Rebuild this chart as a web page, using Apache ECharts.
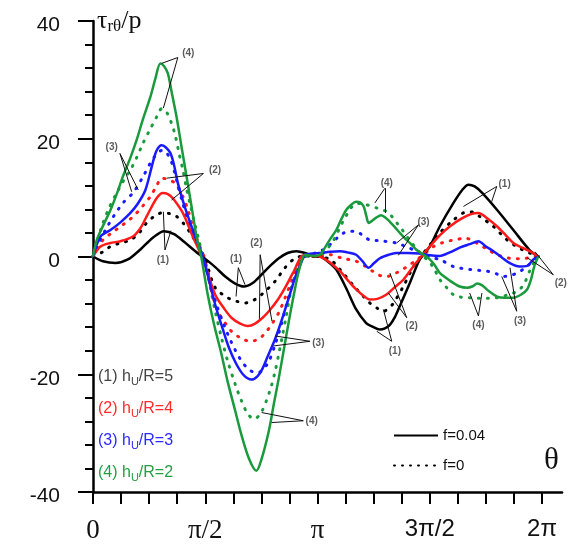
<!DOCTYPE html>
<html><head><meta charset="utf-8">
<script src="https://cdn.jsdelivr.net/npm/echarts@6/dist/echarts.min.js"></script>
<style>html,body{margin:0;padding:0;background:#fff}#c{width:571px;height:544px}</style>
</head><body><div id="c"></div><script>
// θ in degrees, τrθ/p values; (1) hU/R=5 … (4) hU/R=2, solid f=0.04, dotted f=0
const h5_f004 = [[0,0],[8,-0.8],[18,-1.1],[28,-0.5],[38,1.2],[48,3.2],[57,4.3],[65,3.8],[73,2.5],[82,0.9],[90,-0.4],[98,-1.8],[106,-3.4],[114,-4.6],[121,-5.1],[128,-4.5],[135,-3.1],[142,-1.6],[149,-0.3],[156,0.6],[163,0.9],[170,0.6],[176,0.1],[182,0],[188,-0.8],[195,-2.2],[203,-5.4],[211,-9],[219,-11.3],[224,-11.9],[230,-12.4],[234,-12.2],[238,-11.6],[242,-10.3],[246,-8.4],[254,-4.5],[262,-0.5],[270,1.7],[278,5.1],[289,9.1],[296,11.3],[301,12.2],[306,11.9],[312,10.8],[324,7.9],[337,4.5],[350,1.1],[357,0]];
const h5_f0 = [[0,0],[8,0.8],[14,1.7],[22,2.3],[30,2.8],[37,4],[43,5.7],[49,6.8],[55,7.4],[61,7.3],[67,6.8],[73,5.5],[78,4],[86,1.2],[90,-0.5],[98,-5.3],[108,-7],[115,-7.6],[122,-7.9],[129,-7.4],[135,-6.5],[146,-4.2],[154,-1.9],[162,-0.3],[170,0.1],[180,0],[190,-0.5],[198,-2.2],[209,-5],[216,-6.6],[222,-7.9],[228,-8.8],[233,-9.3],[237,-8.8],[241,-7.9],[249,-5],[257,-1.7],[265,0.6],[271,2.2],[278,4],[289,6.2],[300,7.6],[305,7.5],[310,6.8],[321,5.1],[332,2.8],[342,1.4],[350,0.6],[357,0]];
const h4_f004 = [[0,0],[6,1.7],[14,2.3],[22,2.6],[32,3.4],[38,4.8],[43,6.8],[51,9.9],[56,10.8],[60,10.6],[64,9.9],[72,7.4],[80,3.4],[86,0.6],[90,-1.5],[98,-6.5],[105,-8.8],[111,-10.4],[118,-11.4],[124,-11.8],[130,-11.4],[136,-10.4],[141,-9.3],[148,-7.4],[154,-5.3],[161,-2.5],[167,0],[172,0.3],[178,0.1],[182,0],[190,-1],[198,-2.5],[205,-4.2],[211,-5.6],[217,-6.7],[222,-7.3],[228,-7.2],[235,-6.5],[242,-5.2],[249,-3.9],[256,-1.9],[262,-0.3],[270,1.7],[278,3.6],[286,5.1],[295,6.4],[303,7.2],[309,7.4],[316,6.5],[324,5.1],[331,3.6],[337,2.3],[344,1.5],[350,0.9],[357,0]];
const h4_f0 = [[0,0],[8,2.8],[15,4],[22,5.1],[29,6.2],[35,7.4],[40,8.6],[46,10.2],[51,12],[55,13.3],[60,13.1],[66,12.4],[72,10.2],[76,8],[80,5.1],[85,2],[89,0],[94,-5],[100,-9.3],[106,-11.3],[111,-12.7],[118,-13.8],[126,-14.4],[133,-14],[138,-13],[143,-11.6],[149,-9.5],[154,-7],[159,-4.3],[164,-1.9],[170,0],[180,0],[190,0.3],[200,-0.3],[211,-0.8],[217,-1.5],[222,-2.2],[228,-3],[233,-3.4],[238,-3.3],[243,-2.8],[249,-2.1],[254,-1.4],[260,-0.5],[265,0.3],[273,1.7],[281,2.4],[289,2.8],[299,3.1],[305,2.6],[310,2],[317,1.1],[324,0.3],[334,-0.3],[343,-0.4],[350,-0.2],[357,0]];
const h3_f004 = [[0,0],[6,3.4],[14,4.5],[22,5.8],[30,7.4],[36,9],[42,11.3],[48,16],[51,18],[55,18.9],[58,18.6],[62,17.6],[65,15.5],[68,12.5],[73,8.8],[78,5.7],[82,3.3],[86,1.2],[90,-1.5],[98,-8.2],[104,-12.3],[109,-15.5],[115,-18.3],[121,-20.2],[127,-20.9],[132,-20.3],[136,-19],[140,-17],[146,-14],[151,-11],[157,-7],[162,-3.6],[167,-1],[170,0.3],[176,0.5],[182,0.6],[190,0.8],[198,0.9],[204,0.7],[211,0.3],[216,-0.8],[221,-1.9],[225,-1.2],[230,-0.3],[237,0.3],[243,0.6],[252,0.6],[262,0.5],[270,0.2],[278,0.1],[286,0.7],[294,1.5],[302,2.1],[309,2.6],[315,1.7],[321,0.9],[328,-0.2],[334,-1.1],[342,-1.7],[348,-1.6],[353,-0.5],[357,0]];
const h3_f0 = [[0,0],[5,2.5],[10,4.5],[14,6],[19,7.6],[24,9.1],[32,10.8],[40,13.5],[46,15.9],[51,17.4],[55,18],[59,17.6],[63,16],[67,13],[72,9],[77,5.5],[82,2.8],[87,0.5],[91,-1.8],[98,-7.5],[105,-11.6],[111,-14.6],[118,-17.4],[124,-19],[130,-19.7],[135,-19.5],[141,-17.8],[146,-15],[151,-11.5],[156,-7.5],[161,-4],[166,-1.2],[170,0],[178,0.6],[184,1.1],[190,2],[196,3.2],[201,4],[206,4.3],[211,4.3],[216,3.6],[222,2.8],[228,2.7],[233,2.6],[243,2.3],[254,1.4],[260,0.8],[265,0.3],[271,-0.2],[278,-0.5],[289,-1.7],[302,-2.2],[316,-2.5],[323,-2.9],[329,-3.4],[335,-3.2],[340,-2.8],[348,-1.7],[353,-0.6],[357,0]];
const h2_f004 = [[0,0],[3,2.8],[8,5.2],[14,7.9],[19,10.6],[24,13.6],[30,16.8],[35,19.8],[40,23.3],[46,27.1],[50,30.2],[54,32.8],[57,32.3],[60,31.1],[63,28],[67,23.7],[71,18.6],[75,13.6],[79,8.5],[83,3.4],[87,-0.3],[92,-6.5],[97,-11.5],[103,-16.6],[108,-21.3],[114,-26.2],[119,-30.3],[125,-34.3],[131,-36.4],[135,-34.5],[141,-29.6],[145,-25],[149,-20.6],[153,-15.8],[157,-11],[161,-6.5],[165,-2.5],[170,0.3],[176,0.1],[182,0.3],[186,1.5],[190,2.9],[195,4.5],[199,6.3],[203,7.9],[207,8.8],[211,9.3],[214,9.2],[217,8.5],[219,7],[221,5.7],[224,6.1],[227,6.6],[231,7],[235,6.5],[238,5.9],[242,5],[246,4],[250,3.1],[254,2.3],[259,1.2],[265,0.3],[270,-0.5],[274,-1.5],[278,-2.8],[286,-4.1],[294,-5.1],[300,-5.3],[304,-5.1],[308,-4.6],[312,-4.9],[317,-5.8],[324,-6.8],[330,-7],[337,-7],[343,-6.5],[348,-5.6],[351,-4],[354,-1.5],[357,0]];
const h2_f0 = [[0,0],[4,3],[8,5.7],[13,8.3],[19,10.8],[24,12.7],[30,14.7],[35,16.8],[40,19.2],[46,21.7],[51,23.7],[55,25.1],[59,24.5],[63,22.6],[66,20.5],[69,17.5],[72,14.8],[75,11.5],[78,8.8],[81,6],[85,2.7],[88,0],[92,-3.3],[98,-9.3],[103,-13.8],[108,-17.8],[114,-21.7],[119,-24.5],[124,-26.7],[129,-27.6],[134,-26.8],[139,-24.5],[143,-22],[146,-19.5],[149,-16.5],[152,-13.3],[155,-10],[158,-6.5],[161,-4],[165,-1.4],[169,0],[176,0.1],[180,0],[185,0.6],[189,1.6],[193,2.8],[197,4.5],[201,6.2],[205,7.6],[209,8.8],[214,9],[219,8.8],[224,8.5],[228,8.2],[232,7.9],[236,7.6],[240,6.7],[244,5.6],[248,4.5],[252,3.3],[256,2.2],[260,1.1],[265,0],[270,-1],[274,-2.3],[278,-3.9],[284,-5.4],[289,-6.5],[295,-6.9],[302,-7],[310,-7.1],[317,-7.1],[324,-7],[331,-6.6],[337,-6.2],[342,-5.6],[346,-4.5],[350,-2.5],[354,-0.8],[357,0]];

// axis ticks (degrees) and their labels
const xTicks = [0,22.5,45,67.5,90,112.5,135,157.5,180,202.5,225,247.5,270,292.5,315,337.5,360];
const xLabelValues = [0,90,180,270,360];
const xLabelText = ['{s|0}','{s|π/2}','{s|π}','{a|3π/2}','{a|2π}'];

// callout tags: text, position; leader lines: from, to
const tagText = ['(4)','(3)','(2)','(1)','(1)','(2)','(3)','(4)','(4)','(3)','(1)','(2)','(3)','(4)','(2)','(1)'];
const tagPos = [[76.4,34.5],[15,18.6],[97.8,14.7],[56,-0.6],[114.7,-0.5],[131,2.3],[180.7,-14.7],[175.3,-27.9],[235.5,12.4],[265,5.9],[330,12.2],[375,-4.5],[342.4,-11],[309,-11.6],[255.5,-11.8],[242,-16.1]];
const leaderFrom = [[68,33.8],[68,33.8],[21.6,17.5],[21.6,17.5],[88.5,14.1],[88.5,14.1],[57.7,1.1],[57.7,1.1],[116.5,-1.9],[116.5,-1.9],[134,0.3],[134,0.3],[174,-14.4],[174,-14.4],[168.6,-27.9],[168.6,-27.9],[234,11.6],[234,11.6],[261,5.4],[261,5.4],[323.7,11.9],[323.7,11.9],[369,-3.1],[369,-3.1],[339.7,-9.3],[339.7,-9.3],[309,-10.1],[309,-10.1],[251.5,-10.4],[251.5,-10.4],[239.5,-14.4],[239.5,-14.4]];
const leaderTo = [[55,32.8],[56.4,25.2],[31,11],[36.3,11.3],[59,13.3],[63,9.6],[56.4,7.6],[62.5,4.4],[121.9,-4.8],[114.7,-6.8],[133.4,-10.6],[143.5,-11],[146,-13.5],[144.6,-15.2],[135.2,-26.5],[143.3,-28.2],[226,9.1],[234,7.4],[243.5,2.3],[244.8,0.2],[297,8.5],[319.6,9.3],[348,-0.2],[354.4,0.8],[334.3,-1.9],[327.7,-3.4],[302,-6.2],[311.8,-6.2],[238,-2.8],[236.8,-6.2],[227.5,-12.7],[232.8,-9]];

const BLACK = '#000000', RED = '#ff1a1a', BLUE = '#1a1aff', GREEN = '#1a9a3c';
const SERIF = '"Liberation Serif","DejaVu Serif",serif';
const SANS = '"Liberation Sans",Arial,sans-serif';

function curve(name, data, color, dotted) {
  return {
    name: name, type: 'line', data: data, smooth: 0.3, symbol: 'none',
    lineStyle: dotted ? { color: color, width: 3, type: [1, 8], cap: 'round' }
                      : { color: color, width: 2.5 },
    z: dotted ? 3 : 4
  };
}

// legend-only entries for the two friction values (line sample, no marker)
function keyEntry(name, lineStyle) {
  return { name: name, type: 'line', data: [], symbol: 'circle', symbolSize: 0, showSymbol: false,
           lineStyle: lineStyle, itemStyle: { color: BLACK, opacity: 0 } };
}

const chart = echarts.init(document.getElementById('c'), null, { renderer: 'canvas' });
chart.setOption({
  animation: false,
  backgroundColor: '#fff',
  grid: { left: 93, right: 9, top: 21, bottom: 51 },
  xAxis: {
    type: 'value', min: 0, max: 376,
    axisLine: { onZero: false, lineStyle: { color: '#000', width: 2.5 } },
    axisTick: { customValues: xTicks, length: 12, lineStyle: { color: '#000', width: 2 } },
    axisLabel: {
      customValues: xLabelValues, margin: 25, color: '#111',
      formatter: v => xLabelText[xLabelValues.indexOf(v)],
      rich: { s: { fontFamily: SERIF, fontSize: 27, color: '#111' },
              a: { fontFamily: SANS, fontSize: 24, color: '#111' } }
    },
    splitLine: { show: false }
  },
  yAxis: {
    type: 'value', min: -40, max: 40, interval: 20,
    axisLine: { onZero: false, lineStyle: { color: '#000', width: 2.5 } },
    axisTick: { length: 15, lineStyle: { color: '#000', width: 2 } },
    minorTick: { show: true, splitNumber: 5, length: 8, lineStyle: { color: '#000', width: 2 } },
    axisLabel: { margin: 33, color: '#111', formatter: v => '{v|' + v + '}',
                 rich: { v: { fontFamily: SANS, fontSize: 21, color: '#111', padding: [9, 0, 0, 0] } } },
    splitLine: { show: false }, minorSplitLine: { show: false }
  },
  legend: {
    orient: 'vertical', left: 388, top: 423, itemWidth: 44, itemHeight: 14, itemGap: 15,
    data: ['f=0.04', 'f=0'],
    itemStyle: { opacity: 0 },
    textStyle: { fontFamily: SANS, fontSize: 15, color: '#111' }
  },
  series: [
    curve('hU/R=5, f=0', h5_f0, BLACK, true),
    curve('hU/R=4, f=0', h4_f0, RED, true),
    curve('hU/R=3, f=0', h3_f0, BLUE, true),
    curve('hU/R=2, f=0', h2_f0, GREEN, true),
    curve('hU/R=5, f=0.04', h5_f004, BLACK, false),
    curve('hU/R=4, f=0.04', h4_f004, RED, false),
    curve('hU/R=3, f=0.04', h3_f004, BLUE, false),
    curve('hU/R=2, f=0.04', h2_f004, GREEN, false),
    keyEntry('f=0.04', { color: BLACK, width: 2.5 }),
    keyEntry('f=0', { color: BLACK, width: 3, type: [1, 7], cap: 'round' }),
    {
      name: 'tags', type: 'scatter', symbolSize: 0, clip: false, z: 6, silent: true,
      data: tagText.map((t, i) => ({ name: t, value: tagPos[i] })),
      label: { show: true, position: 'inside', formatter: p => p.name,
               fontFamily: SANS, fontSize: 10, fontWeight: 'bold', color: '#333' },
      markLine: {
        silent: true, symbol: ['none', 'none'], animation: false,
        lineStyle: { color: '#111', width: 1, type: 'solid' },
        label: { show: false },
        data: leaderFrom.map((f, i) => [{ coord: f }, { coord: leaderTo[i] }])
      }
    }
  ],
  graphic: [
    { type: 'text', left: 97, top: 8, z: 10, style: {
        text: '{m|τ}{b|rθ}{m|/p}',
        rich: { m: { fontFamily: SERIF, fontSize: 26, fill: '#111' },
                b: { fontFamily: SERIF, fontSize: 17, fill: '#111', padding: [12, 0, 0, 0] } } } },
    { type: 'text', left: 544, top: 445, z: 10, style: { text: 'θ', fontFamily: SERIF, fontSize: 31, fill: '#111' } },
    { type: 'text', left: 98, top: 369, z: 10, style: { text: '{m|(1) h}{u|U}{m|/R=5}',
        rich: { m: { fontFamily: SANS, fontSize: 16, fill: '#444' }, u: { fontFamily: SANS, fontSize: 11, fill: '#444', padding: [9, 0, 0, 0] } } } },
    { type: 'text', left: 98, top: 401, z: 10, style: { text: '{m|(2) h}{u|U}{m|/R=4}',
        rich: { m: { fontFamily: SANS, fontSize: 16, fill: '#ff2a2a' }, u: { fontFamily: SANS, fontSize: 11, fill: '#ff2a2a', padding: [9, 0, 0, 0] } } } },
    { type: 'text', left: 98, top: 433, z: 10, style: { text: '{m|(3) h}{u|U}{m|/R=3}',
        rich: { m: { fontFamily: SANS, fontSize: 16, fill: '#2a2aff' }, u: { fontFamily: SANS, fontSize: 11, fill: '#2a2aff', padding: [9, 0, 0, 0] } } } },
    { type: 'text', left: 98, top: 465, z: 10, style: { text: '{m|(4) h}{u|U}{m|/R=2}',
        rich: { m: { fontFamily: SANS, fontSize: 16, fill: '#22a044' }, u: { fontFamily: SANS, fontSize: 11, fill: '#22a044', padding: [9, 0, 0, 0] } } } }
  ]
});
</script></body></html>
